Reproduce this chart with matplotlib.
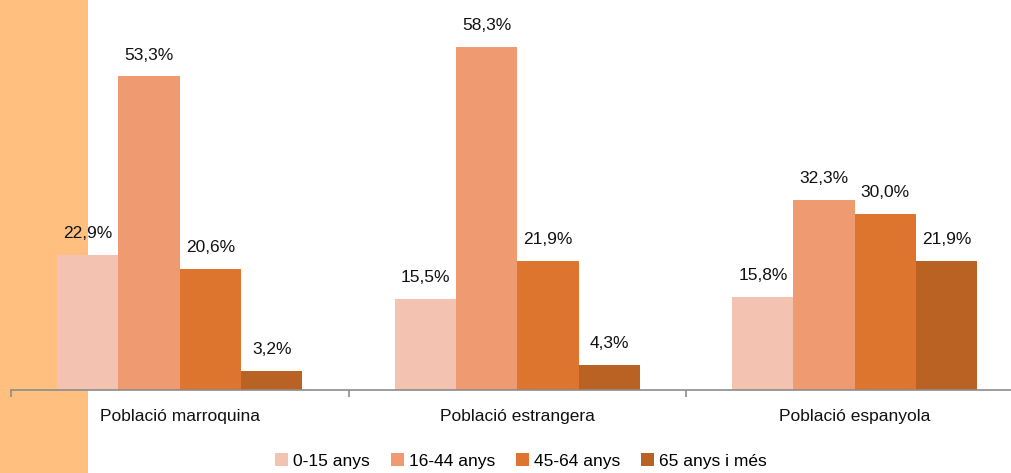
import matplotlib.pyplot as plt
import numpy as np
from matplotlib.patches import Rectangle

plt.rcParams['font.family'] = ['Liberation Sans', 'DejaVu Sans']

# data
groups = ['Població marroquina', 'Població estrangera', 'Població espanyola']
ages = ['0-15 anys', '16-44 anys', '45-64 anys', '65 anys i més']
vals = {
    '0-15 anys': [22.9, 15.5, 15.8],
    '16-44 anys': [53.3, 58.3, 32.3],
    '45-64 anys': [20.6, 21.9, 30.0],
    '65 anys i més': [3.2, 4.3, 21.9],
}
colors = ['#F4C2B1', '#F09A71', '#DE752E', '#BA6124']

W, H = 1011, 473
fig = plt.figure(figsize=(W / 100, H / 100), dpi=100)

# orange band on the left
fig.patches.append(Rectangle((0, 0), 88 / W, 1, transform=fig.transFigure,
                             facecolor='#FFBF7F', edgecolor='none', zorder=-1))

ax = fig.add_axes([11 / W, (H - 390) / H, 1012.5 / W, 390 / H])
ax.patch.set_alpha(0)

fs = 12.5
x = np.arange(len(groups))
bw = 0.1815
for i, age in enumerate(ages):
    pos = x + (i - 1.5) * bw
    bars = ax.bar(pos, vals[age], width=bw, color=colors[i], label=age, zorder=2)
    for b, v in zip(bars, vals[age]):
        ax.annotate(f'{v:.1f}%'.replace('.', ','), (b.get_x() + b.get_width() / 2, v),
                    xytext=(0, 10), textcoords='offset points', ha='center', va='bottom',
                    fontsize=fs, color='#111111')

ax.set_xlim(-0.5, 2.5)
ax.set_ylim(0, 66.3)
ax.set_yticks([])
for s in ['top', 'right', 'left']:
    ax.spines[s].set_visible(False)
ax.spines['bottom'].set_color('#8c8c8c')
ax.spines['bottom'].set_linewidth(1.2)

ax.set_xticks(x)
ax.set_xticklabels(groups, fontsize=fs, color='#111111')
ax.tick_params(axis='x', which='major', length=0, pad=14)
ax.set_xticks([-0.5, 0.5, 1.5, 2.5], minor=True)
ax.tick_params(axis='x', which='minor', length=5, color='#8c8c8c', width=1.2)

fig.legend(loc='center', bbox_to_anchor=(521 / W, 1 - 461 / H), ncol=4, frameon=False,
           fontsize=fs, handlelength=0.75, handleheight=0.75, handletextpad=0.3,
           columnspacing=1.2, borderpad=0)

fig.savefig('out.png', dpi=100)
